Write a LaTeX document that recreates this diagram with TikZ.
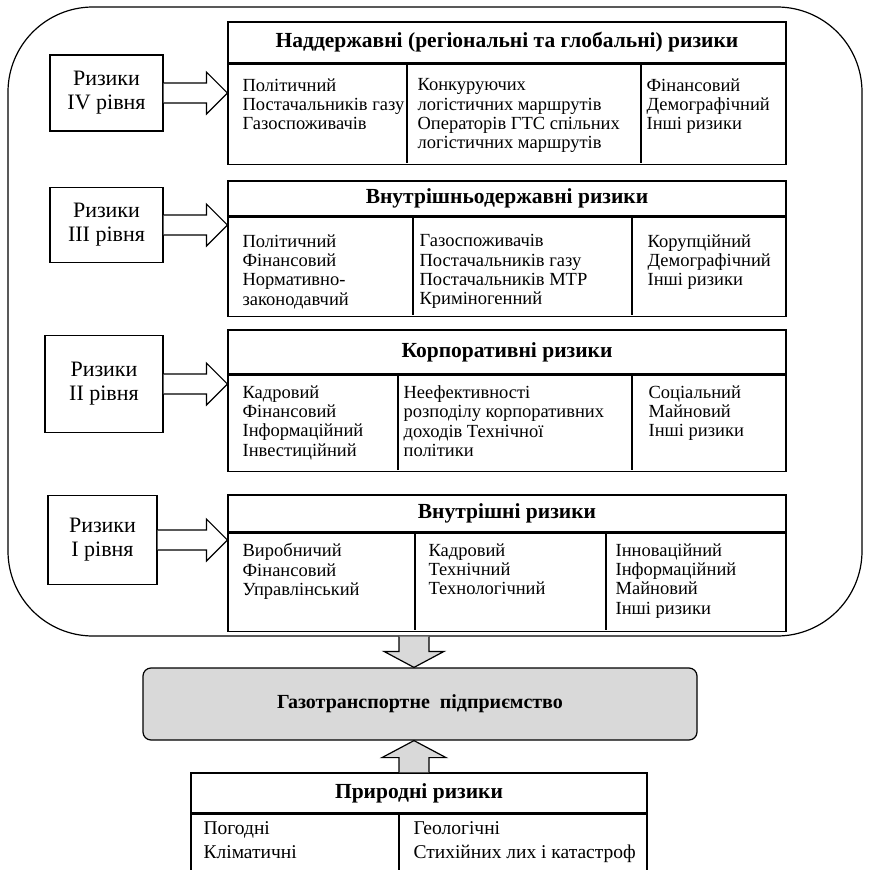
\documentclass[tikz,border=0pt]{standalone}
\usepackage{fontspec}
\setmainfont{Liberation Serif}
\usetikzlibrary{positioning,calc}
\newcommand\tightlines{\lineskiplimit=-20pt\relax}

\begin{document}
\begin{tikzpicture}[x=1pt, y=-1pt, line width=1.2pt,
  lvl/.style = {draw, align=center, font=\fontsize{22}{24}\selectfont},
  hdr/.style = {draw, minimum width=558, font=\fontsize{21.5}{24}\selectfont\bfseries},
  body/.style = {draw, minimum width=558},
  col/.style = {anchor=north west, align=left, inner sep=0pt,
    font=\fontsize{18.5}{19.3}\selectfont\tightlines},
  openarr/.style = {draw, fill=white, line join=miter},
  grayarr/.style = {draw, fill=gray!30, line join=miter}]
  \useasboundingbox (0,0) rectangle (871,870);

  % outer frame
  \node[draw, rounded corners=85, minimum width=854, minimum height=629] (outer) at (435,321.5) {};

  % levels
  \node[lvl, minimum width=113, minimum height=76] (l4) at (106.5,93) {Ризики\\IV рівня};
  \node[lvl, minimum width=113, minimum height=75] (l3) at (106.5,225) {Ризики\\III рівня};
  \node[lvl, minimum width=118, minimum height=97] (l2) at (104,384) {Ризики\\II рівня};
  \node[lvl, minimum width=109, minimum height=89] (l1) at (102.5,540) {Ризики\\I рівня};

  % level IV
  \node[hdr, minimum height=41] (h4) at (507,42.5) {Наддержавні (регіональні та глобальні) ризики};
  \node[body, minimum height=100, below=0pt of h4] (b4) {};
  \draw (407,63) -- (407,163) (641,63) -- (641,163);
  \node[col] at (242,78) {Політичний\\Постачальників газу\\Газоспоживачів};
  \node[col] at (417,78) {Конкуруючих\\логістичних маршрутів\\Операторів ГТС спільних\\логістичних маршрутів};
  \node[col] at (646,78) {Фінансовий\\Демографічний\\Інші ризики};

  % level III
  \node[hdr, minimum height=35] (h3) at (507,198.5) {Внутрішньодержавні ризики};
  \node[body, minimum height=99, below=0pt of h3] (b3) {};
  \draw (413,216) -- (413,315) (632,216) -- (632,315);
  \node[col] at (242,234) {Політичний\\Фінансовий\\Нормативно-\\законодавчий};
  \node[col] at (419,234) {Газоспоживачів\\Постачальників газу\\Постачальників МТР\\Криміногенний};
  \node[col] at (647,234) {Корупційний\\Демографічний\\Інші ризики};

  % level II
  \node[hdr, minimum height=44] (h2) at (507,352) {Корпоративні ризики};
  \node[body, minimum height=96, below=0pt of h2] (b2) {};
  \draw (398,374) -- (398,470) (632,374) -- (632,470);
  \node[col] at (242,385) {Кадровий\\Фінансовий\\Інформаційний\\Інвестиційний};
  \node[col] at (403,385) {Неефективності\\розподілу корпоративних\\доходів Технічної\\політики};
  \node[col] at (648,385) {Соціальний\\Майновий\\Інші ризики};

  % level I
  \node[hdr, minimum height=37] (h1) at (507,513.5) {Внутрішні ризики};
  \node[body, minimum height=98, below=0pt of h1] (b1) {};
  \draw (415,532) -- (415,630) (606,532) -- (606,630);
  \node[col] at (242,543) {Виробничий\\Фінансовий\\Управлінський};
  \node[col] at (428,543) {Кадровий\\Технічний\\Технологічний};
  \node[col] at (615,543) {Інноваційний\\Інформаційний\\Майновий\\Інші ризики};

  % arrows into the levels
  \draw[openarr] ($(l4.east)+(0,10pt)$) -- ($(l4.east -| h4.west)+(-21pt,10pt)$) -- ++(0,11pt) -- (l4.east -| h4.west) -- ++(-21pt,-21pt) -- ++(0,11pt) -- ($(l4.east)+(0,-10pt)$);
  \draw[openarr] ($(l3.east)+(0,10pt)$) -- ($(l3.east -| h3.west)+(-21pt,10pt)$) -- ++(0,11pt) -- (l3.east -| h3.west) -- ++(-21pt,-21pt) -- ++(0,11pt) -- ($(l3.east)+(0,-10pt)$);
  \draw[openarr] ($(l2.east)+(0,10pt)$) -- ($(l2.east -| h2.west)+(-21pt,10pt)$) -- ++(0,11pt) -- (l2.east -| h2.west) -- ++(-21pt,-21pt) -- ++(0,11pt) -- ($(l2.east)+(0,-10pt)$);
  \draw[openarr] ($(l1.east)+(0,10pt)$) -- ($(l1.east -| h1.west)+(-21pt,10pt)$) -- ++(0,11pt) -- (l1.east -| h1.west) -- ++(-21pt,-21pt) -- ++(0,11pt) -- ($(l1.east)+(0,-10pt)$);

  % enterprise
  \node[draw, rounded corners=8, fill=gray!30, minimum width=554, minimum height=72,
    font=\fontsize{20}{22}\selectfont\bfseries] (gas) at (420,704) {Газотранспортне\ \ підприємство};

  % natural risks
  \node[hdr, minimum width=456, minimum height=40] (n) at (419,793) {Природні ризики};
  \node[body, minimum width=456, minimum height=62, below=0pt of n] (nb) {};
  \draw (399,813) -- (399,875);
  \node[col, font=\fontsize{19.5}{24}\selectfont\tightlines] at (203,821) {Погодні\\Кліматичні};
  \node[col, font=\fontsize{19.5}{24}\selectfont\tightlines] at (413,821) {Геологічні\\Стихійних лих і катастроф};

  % gray arrows
  \coordinate (dn) at ($(gas.north)+(-6pt,0)$);
  \coordinate (up) at ($(gas.south)+(-6pt,0)$);
  \draw[grayarr] ($(dn |- outer.south)+(-15pt,0)$) -- ($(dn)+(-15pt,16pt)$) -- ++(-15pt,0) -- (dn) -- ++(30pt,16pt) -- ++(-15pt,0) -- ($(dn |- outer.south)+(15pt,0)$);
  \draw[grayarr] ($(up |- n.north)+(-15pt,0)$) -- ($(up)+(-15pt,-17pt)$) -- ++(-17pt,0) -- (up) -- ++(32pt,-17pt) -- ++(-17pt,0) -- ($(up |- n.north)+(15pt,0)$);
\end{tikzpicture}
\end{document}
